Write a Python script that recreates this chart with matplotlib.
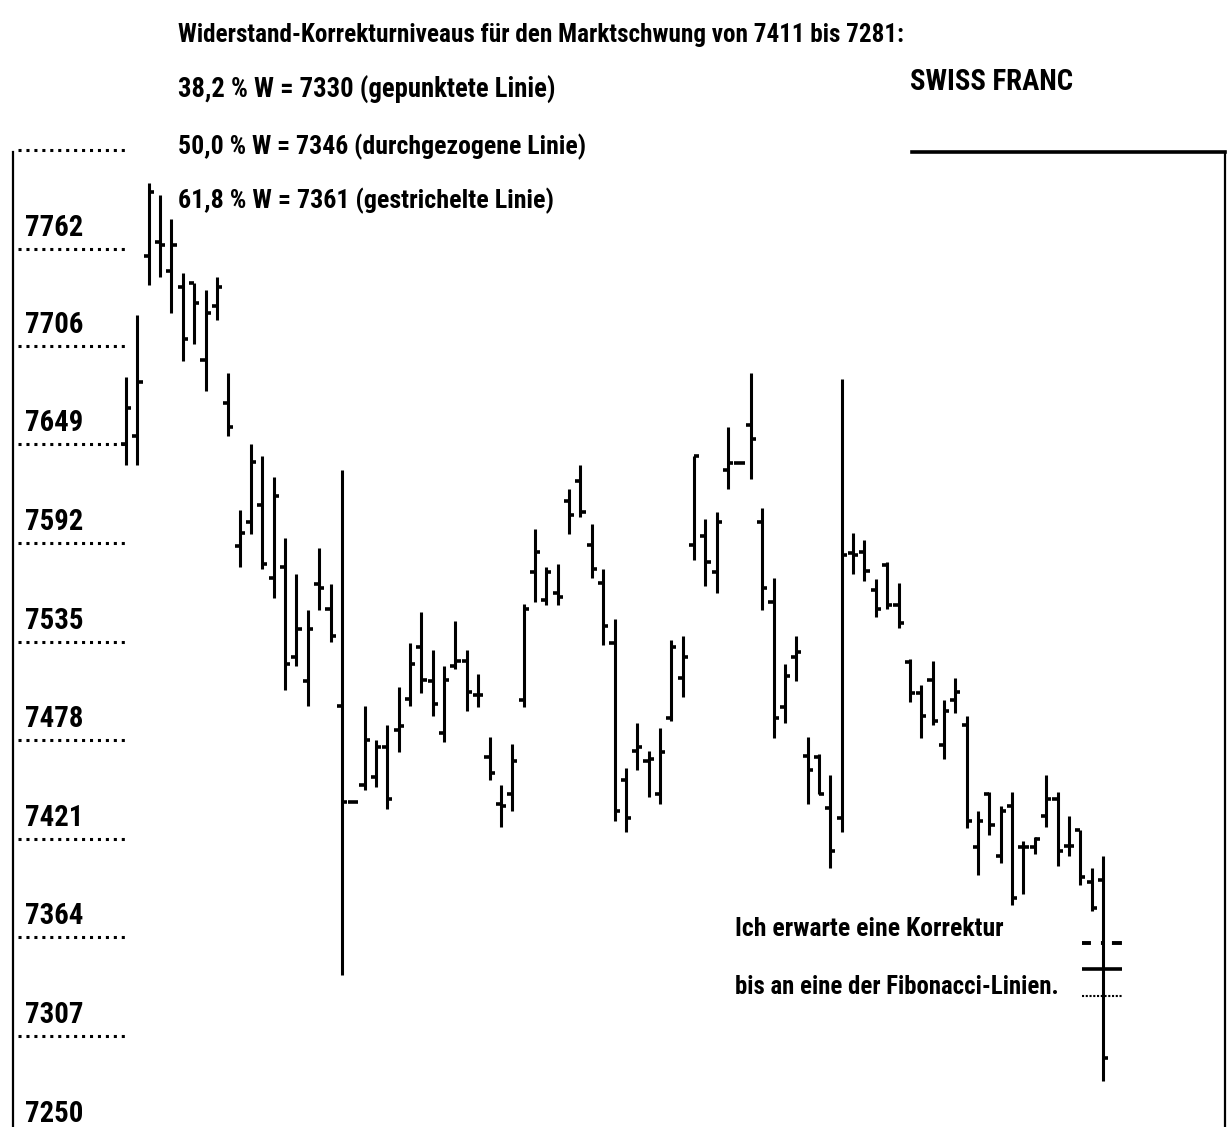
import matplotlib
matplotlib.use('Agg')
import matplotlib.pyplot as plt
from matplotlib import font_manager as fm
import numpy as np

# daily bars (open, high, low, close)
opens = [7649, 7654, 7758, 7766, 7749, 7740, 7742, 7698, 7729, 7673,
         7590, 7604, 7614, 7572, 7578, 7526, 7512, 7568, 7554, 7498,
         7442, 7452, 7457, 7474, 7484, 7502, 7532, 7512, 7482, 7521,
         7524, 7504, 7468, 7441, 7447, 7501, 7575, 7559, 7563, 7616,
         7628, 7591, 7569, 7534, 7455, 7472, 7466, 7447, 7491, 7514,
         7591, 7596, 7575, 7634, 7638, 7660, 7604, 7558, 7497, 7526,
         7469, 7468, 7439, 7433, 7586, 7587, 7565, 7579, 7556, 7523,
         7505, 7513, 7475, 7501, 7487, 7416, 7447, 7411, 7440, 7416,
         7416, 7434, 7444, 7417, 7426, 7396, 7397]
highs = [7688, 7724, 7800, 7793, 7779, 7748, 7742, 7738, 7746, 7690,
         7611, 7649, 7642, 7630, 7595, 7574, 7553, 7589, 7568, 7634,
         7442, 7498, 7478, 7487, 7509, 7534, 7552, 7530, 7521, 7547,
         7530, 7516, 7480, 7452, 7476, 7557, 7600, 7578, 7580, 7623,
         7637, 7603, 7577, 7548, 7462, 7488, 7472, 7485, 7536, 7538,
         7642, 7606, 7610, 7659, 7638, 7690, 7612, 7572, 7522, 7538,
         7480, 7470, 7458, 7687, 7598, 7594, 7571, 7581, 7569, 7525,
         7510, 7524, 7501, 7514, 7492, 7437, 7448, 7440, 7448, 7420,
         7422, 7458, 7448, 7434, 7426, 7404, 7411]
lows = [7637, 7637, 7741, 7746, 7725, 7697, 7707, 7680, 7721, 7654,
        7578, 7597, 7577, 7560, 7507, 7521, 7498, 7553, 7535, 7342,
        7442, 7449, 7451, 7438, 7471, 7498, 7505, 7492, 7477, 7519,
        7495, 7497, 7455, 7428, 7437, 7497, 7558, 7556, 7556, 7597,
        7607, 7572, 7533, 7431, 7425, 7461, 7445, 7441, 7489, 7503,
        7582, 7567, 7563, 7623, 7638, 7629, 7553, 7479, 7488, 7512,
        7441, 7447, 7404, 7425, 7574, 7570, 7549, 7554, 7543, 7500,
        7479, 7487, 7467, 7494, 7427, 7400, 7423, 7407, 7383, 7389,
        7412, 7428, 7405, 7411, 7394, 7379, 7281]
closes = [7670, 7685, 7795, 7764, 7764, 7710, 7731, 7725, 7740, 7659,
          7598, 7639, 7580, 7619, 7522, 7542, 7542, 7566, 7538, 7442,
          7442, 7478, 7474, 7444, 7486, 7522, 7513, 7499, 7513, 7524,
          7506, 7504, 7459, 7440, 7466, 7554, 7587, 7575, 7561, 7608,
          7610, 7577, 7544, 7437, 7433, 7474, 7467, 7471, 7532, 7526,
          7642, 7581, 7604, 7638, 7638, 7652, 7566, 7491, 7515, 7529,
          7461, 7447, 7414, 7585, 7585, 7576, 7554, 7556, 7546, 7505,
          7492, 7489, 7495, 7506, 7431, 7431, 7429, 7437, 7387, 7416,
          7421, 7444, 7414, 7417, 7399, 7381, 7294]

level_values = [7250, 7307, 7364, 7421, 7478, 7535, 7592, 7649, 7706, 7762]
level_labels = ['7250', '7307', '7364', '7421', '7478', '7535', '7592',
                '7649', '7706', '7762']
top_level = 7819

fib_values = [7330, 7346, 7361]  # 38,2 / 50,0 / 61,8 %

header = ['Widerstand-Korrekturniveaus für den Marktschwung von 7411 bis 7281:',
          '38,2 % W = 7330 (gepunktete Linie)',
          '50,0 % W = 7346 (durchgezogene Linie)',
          '61,8 % W = 7361 (gestrichelte Linie)']
note = ['Ich erwarte eine Korrektur', 'bis an eine der Fibonacci-Linien.']
name = 'SWISS FRANC'

have = {f.name for f in fm.fontManager.ttflist}
def pick(names, default):
    for n in names:
        if n in have:
            return n
    return default

serif = pick(['DejaVu Serif Condensed', 'Liberation Sans Narrow', 'Roboto Condensed',
              'Open Sans Condensed', 'Noto Sans Condensed'], 'Liberation Serif')
narrow = pick(['Liberation Sans Narrow', 'DejaVu Sans Condensed', 'Roboto Condensed',
               'Open Sans Condensed', 'Noto Sans Condensed'], 'DejaVu Sans')

W, H = 1228, 1127
fig = plt.figure(figsize=(W / 100, H / 100), dpi=100)
ax = fig.add_axes([13 / W, 0, (1225 - 13) / W, (H - 152) / H])
ax.set_xlim(-9.95, 96.74)
ax.set_ylim(7254.4, 7818)
ax.set_xticks([])
ax.set_yticks([])

x = np.arange(len(opens))
ax.vlines(x, lows, highs, color='black', lw=2.2)
ax.hlines(opens, x - 0.45, x, color='black', lw=2.6)
ax.hlines(closes, x, x + 0.45, color='black', lw=2.6)

# dotted guide lines under the price labels
ax.hlines(level_values + [top_level], -9.5, -0.1, color='black', lw=2.2,
          linestyles=[(0, (1, 1.6))], clip_on=False)
for v, s in zip(level_values, level_labels):
    ax.text(-8.9, v + 4, s, ha='left', va='bottom', family=narrow,
            weight='bold', fontsize=24)

# fibonacci levels on the last bar
xl = x[-1]
ax.hlines(fib_values[0], xl - 1.85, xl + 1.7, color='black', lw=1.5,
          linestyles=[(0, (1, 0.8))])
ax.hlines(fib_values[1], xl - 1.85, xl + 1.7, color='black', lw=2.6)
ax.hlines(fib_values[2], xl - 1.85, xl + 1.7, color='black', lw=2.8,
          linestyles=[(0, (2.3, 2.57, 1.03, 1.8, 2.57, 5))])

for side in ['left', 'right', 'top']:
    ax.spines[side].set_color('black')
ax.spines['bottom'].set_visible(False)
ax.spines['left'].set_linewidth(1.6)
ax.spines['right'].set_linewidth(1.6)
ax.spines['top'].set_linewidth(2.6)
ax.spines['top'].set_bounds(69.2, 96.74)

texts = []
for s, yb in zip(header, [42, 98, 154, 208]):
    texts.append(fig.text(178 / W, 1 - yb / H, s, family=serif, weight='bold',
                          fontsize=18, va='baseline'))
for s, yb in zip(note, [936, 994]):
    texts.append(fig.text(735 / W, 1 - yb / H, s, family=serif, weight='bold',
                          fontsize=16, va='baseline'))
t_name = fig.text(910 / W, 1 - 90 / H, name, family=narrow, weight='bold',
                  fontsize=24, va='baseline')

# scale fonts to the widths seen on the original
renderer = fig.canvas.get_renderer()
def fit(t, width):
    w = t.get_window_extent(renderer).width
    t.set_fontsize(t.get_fontsize() * width / w)

for t, wd in zip(texts, [727, 377, 407, 377, 268, 323]):
    fit(t, wd)
fit(t_name, 163)
for t in ax.texts:
    t.set_fontsize(t_name.get_fontsize())

fig.savefig('out.png', dpi=100, facecolor='white')
